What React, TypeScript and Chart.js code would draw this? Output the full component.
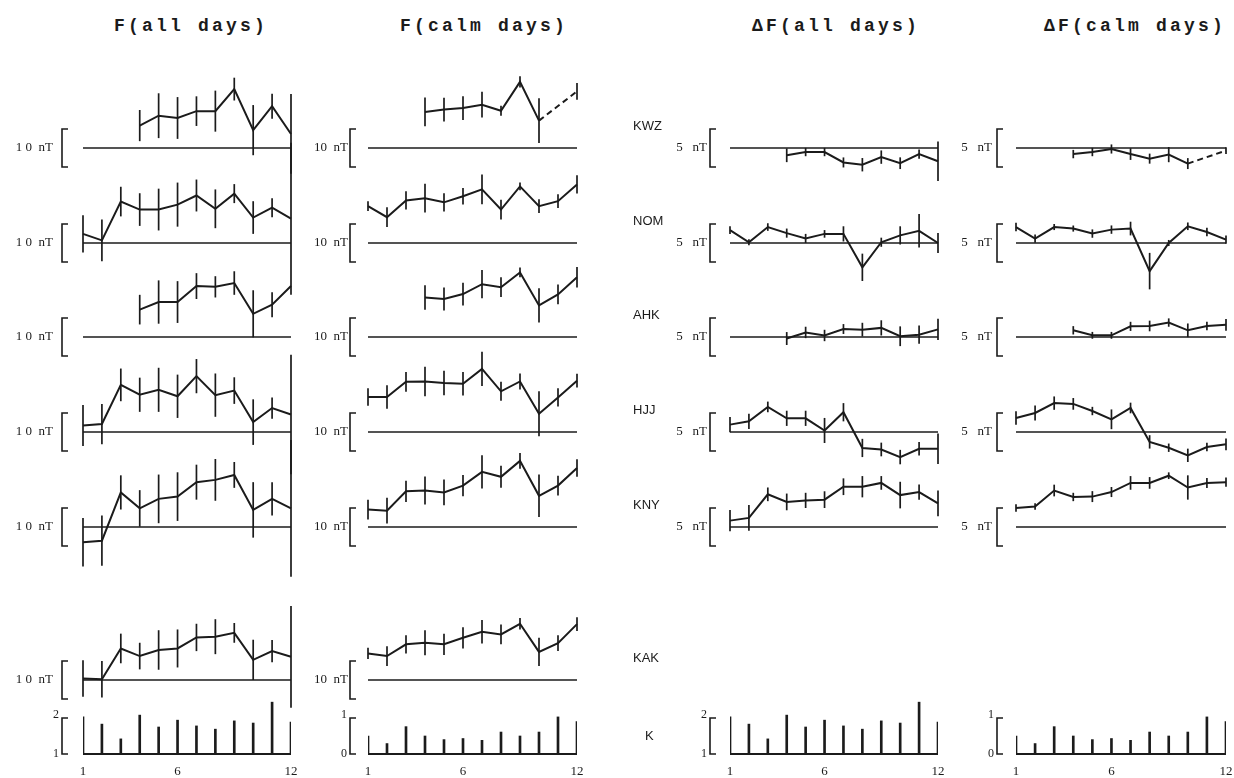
import React, { useEffect, useRef } from "react";
import { Chart, registerables } from "chart.js";

Chart.register(...registerables);

// ---------------- data ----------------
const MONTHS = [1, 2, 3, 4, 5, 6, 7, 8, 9, 10, 11, 12];
const MONTH_TICKS = [1, 6, 12];
const STATIONS = ["KWZ", "NOM", "AHK", "HJJ", "KNY", "KAK"];
const TITLES = ["F(all days)", "F(calm days)", "\u0394F(all days)", "\u0394F(calm days)"];

// F, all days (nT) and error half-lengths
const FA_KWZ = [null, null, null, 5.9, 8.5, 7.9, 9.7, 9.7, 15.5, 4.7, 11.0, 3.7];
const FA_KWZ_E = [0, 0, 0, 4.1, 5.9, 5.5, 3.9, 5.4, 3.0, 6.6, 3.3, 10.5];
const FA_NOM = [2.4, 0.7, 10.9, 8.8, 8.8, 10.1, 12.5, 9.0, 13.0, 6.7, 9.3, 6.4];
const FA_NOM_E = [4.9, 5.5, 3.9, 4.3, 5.5, 5.8, 4.2, 5.1, 2.5, 4.3, 2.5, 20];
const FA_AHK = [null, null, null, 7.2, 9.2, 9.2, 13.4, 13.2, 14.2, 6.1, 8.5, 13.4];
const FA_AHK_E = [0, 0, 0, 3.9, 5.7, 5.5, 3.4, 2.8, 3.1, 6.2, 3.3, 0];
const FA_HJJ = [1.7, 2.1, 12.4, 9.8, 11.1, 9.4, 14.7, 9.7, 10.9, 2.6, 6.3, 4.6];
const FA_HJJ_E = [5.4, 5.3, 4.3, 4.5, 5.8, 5.7, 4.5, 5.7, 3.5, 6.0, 2.8, 15.7];
const FA_KNY = [-4.0, -3.6, 9.1, 4.9, 7.4, 8.0, 11.8, 12.4, 13.7, 4.5, 7.4, 4.9];
const FA_KNY_E = [6.4, 6.6, 4.5, 4.8, 6.4, 6.4, 4.6, 5.5, 3.4, 7.3, 4.4, 18];
const FA_KAK = [0.4, 0.2, 8.3, 6.3, 7.9, 8.3, 11.2, 11.4, 12.4, 5.3, 7.6, 6.1];
const FA_KAK_E = [4.8, 4.8, 3.9, 3.5, 5.2, 5.0, 3.6, 4.6, 2.6, 5.3, 2.9, 13.4];

// F, calm days (nT)
const FC_KWZ = [null, null, null, 9.5, 10.1, 10.5, 11.4, 9.8, 17.4, 7.2, null, 14.9];
const FC_KWZ_E = [0, 0, 0, 3.8, 3.1, 3.1, 3.4, 1.3, 1.5, 5.9, 0, 2.2];
const FC_NOM = [9.7, 6.8, 11.2, 11.8, 10.7, 12.3, 14.1, 8.8, 14.9, 9.7, 11.0, 15.4];
const FC_NOM_E = [1.3, 2.6, 2.4, 3.8, 2.4, 2.2, 3.9, 2.6, 1.0, 1.8, 1.8, 2.4];
const FC_AHK = [null, null, null, 10.4, 10.0, 11.3, 13.9, 13.1, 17.0, 8.3, 11.2, 15.7];
const FC_AHK_E = [0, 0, 0, 3.2, 3.0, 3.0, 3.7, 2.6, 1.3, 4.5, 2.6, 2.7];
const FC_HJJ = [9.2, 9.2, 13.2, 13.3, 12.9, 12.7, 16.6, 10.7, 13.3, 4.8, 9.1, 13.5];
const FC_HJJ_E = [2.3, 3.1, 2.6, 3.9, 3.2, 3.1, 4.5, 2.5, 2.1, 5.9, 2.4, 1.8];
const FC_KNY = [4.6, 4.3, 9.4, 9.6, 9.1, 10.9, 14.5, 13.2, 17.4, 8.2, 10.9, 15.5];
const FC_KNY_E = [2.6, 3.4, 2.8, 3.7, 3.4, 2.8, 4.4, 2.9, 2.1, 5.6, 2.6, 2.3];
const FC_KAK = [7.0, 6.3, 9.4, 9.8, 9.4, 11.1, 12.7, 12.0, 14.8, 7.4, 9.7, 14.7];
const FC_KAK_E = [1.5, 2.6, 2.4, 3.3, 2.8, 2.8, 3.1, 2.6, 1.5, 3.7, 2.1, 1.8];

// Delta F, all days (nT)
const DA_KWZ = [null, null, null, -0.96, -0.53, -0.53, -1.9, -2.2, -1.2, -2.0, -0.8, -1.75];
const DA_KWZ_E = [0, 0, 0, 0.9, 0.55, 0.55, 0.66, 0.88, 0.88, 0.77, 0.6, 2.6];
const DA_NOM = [1.7, 0.1, 2.1, 1.3, 0.6, 1.2, 1.2, -3.2, 0.1, 1.0, 1.6, 0.0];
const DA_NOM_E = [0.5, 0.4, 0.5, 0.6, 0.6, 0.5, 1.0, 1.8, 0.6, 1.2, 2.2, 1.3];
const DA_AHK = [null, null, null, -0.2, 0.6, 0.2, 1.05, 0.97, 1.2, 0.1, 0.3, 1.0];
const DA_AHK_E = [0, 0, 0, 0.85, 0.75, 0.75, 0.65, 0.9, 1.0, 1.3, 1.2, 1.4];
const DA_HJJ = [0.97, 1.4, 3.3, 1.8, 1.8, 0.2, 2.6, -2.1, -2.3, -3.3, -2.2, -2.2];
const DA_HJJ_E = [1.0, 1.0, 0.7, 1.0, 1.0, 1.65, 1.2, 1.2, 0.9, 0.95, 0.9, 2.0];
const DA_KNY = [0.84, 1.2, 4.3, 3.3, 3.5, 3.6, 5.3, 5.3, 5.8, 4.2, 4.6, 3.1];
const DA_KNY_E = [1.4, 1.7, 0.9, 1.1, 1.0, 1.1, 1.1, 1.4, 0.9, 1.75, 1.0, 1.7];

// Delta F, calm days (nT)
const DC_KWZ = [null, null, null, -0.8, -0.53, -0.13, -0.8, -1.4, -0.87, -2.05, null, -0.34];
const DC_KWZ_E = [0, 0, 0, 0.55, 0.55, 0.6, 0.77, 0.66, 1.0, 0.72, 0, 0.45];
const DC_NOM = [2.1, 0.58, 2.1, 1.9, 1.24, 1.76, 1.9, -3.7, 0.0, 2.2, 1.45, 0.45];
const DC_NOM_E = [0.55, 0.55, 0.4, 0.4, 0.55, 0.55, 0.9, 2.4, 0.4, 0.5, 0.55, 0.55];
const DC_AHK = [null, null, null, 0.88, 0.22, 0.22, 1.4, 1.45, 1.9, 0.88, 1.45, 1.6];
const DC_AHK_E = [0, 0, 0, 0.55, 0.45, 0.45, 0.6, 0.7, 0.55, 0.9, 0.55, 0.77];
const DC_HJJ = [1.84, 2.5, 3.8, 3.7, 2.76, 1.67, 3.16, -1.3, -2.07, -3.07, -1.97, -1.62];
const DC_HJJ_E = [0.88, 0.99, 0.88, 0.77, 0.55, 1.3, 0.7, 0.88, 0.55, 0.88, 0.55, 0.77];
const DC_KNY = [2.5, 2.7, 4.8, 3.95, 4.0, 4.6, 5.8, 5.8, 6.75, 5.2, 5.8, 5.9];
const DC_KNY_E = [0.5, 0.44, 0.77, 0.55, 0.72, 0.66, 0.9, 0.77, 0.44, 1.6, 0.66, 0.6];

// K index (monthly mean)
const K_ALL = [2.03, 1.83, 1.42, 2.08, 1.75, 1.94, 1.78, 1.69, 1.92, 1.86, 2.44, 1.89];
const K_CALM = [0.5, 0.29, 0.76, 0.5, 0.4, 0.43, 0.38, 0.61, 0.5, 0.61, 1.03, 0.9];

// ---------------- layout ----------------
const H = 778;
const INK = "#1b1b1b";
const BASE_PX = [148, 243, 337, 432, 527, 680]; // baseline pixel row of each station
const K_BASE_PX = 754;
const K_PX_PER_UNIT = 36;

type Panel = { station: string; values: (number | null)[] | null; errors: number[] | null };
type Col = {
  key: string; title: string; titleX: number;
  left: number; width: number; x1: number; x12: number;
  ppn: number; half: number; unit: string; bracketGap: number; unitGap: number;
  showNames: boolean; nameX: number;
  panels: Panel[]; k: number[]; kBase: number;
};

const COLUMNS: Col[] = [
  {
    key: "fa", title: TITLES[0], titleX: 191, left: 0, width: 300, x1: 83, x12: 291,
    ppn: 3.8, half: 5, unit: "1 0  nT", bracketGap: 21, unitGap: 9, showNames: false, nameX: 0,
    panels: [
      { station: "KWZ", values: FA_KWZ, errors: FA_KWZ_E },
      { station: "NOM", values: FA_NOM, errors: FA_NOM_E },
      { station: "AHK", values: FA_AHK, errors: FA_AHK_E },
      { station: "HJJ", values: FA_HJJ, errors: FA_HJJ_E },
      { station: "KNY", values: FA_KNY, errors: FA_KNY_E },
      { station: "KAK", values: FA_KAK, errors: FA_KAK_E },
    ],
    k: K_ALL, kBase: 1,
  },
  {
    key: "fc", title: TITLES[1], titleX: 484, left: 300, width: 300, x1: 368, x12: 577,
    ppn: 3.8, half: 5, unit: "10  nT", bracketGap: 18, unitGap: 2, showNames: false, nameX: 0,
    panels: [
      { station: "KWZ", values: FC_KWZ, errors: FC_KWZ_E },
      { station: "NOM", values: FC_NOM, errors: FC_NOM_E },
      { station: "AHK", values: FC_AHK, errors: FC_AHK_E },
      { station: "HJJ", values: FC_HJJ, errors: FC_HJJ_E },
      { station: "KNY", values: FC_KNY, errors: FC_KNY_E },
      { station: "KAK", values: FC_KAK, errors: FC_KAK_E },
    ],
    k: K_CALM, kBase: 0,
  },
  {
    key: "da", title: TITLES[2], titleX: 836, left: 600, width: 350, x1: 730, x12: 938,
    ppn: 7.6, half: 2.5, unit: "5   nT", bracketGap: 20, unitGap: 3, showNames: true, nameX: 633,
    panels: [
      { station: "KWZ", values: DA_KWZ, errors: DA_KWZ_E },
      { station: "NOM", values: DA_NOM, errors: DA_NOM_E },
      { station: "AHK", values: DA_AHK, errors: DA_AHK_E },
      { station: "HJJ", values: DA_HJJ, errors: DA_HJJ_E },
      { station: "KNY", values: DA_KNY, errors: DA_KNY_E },
      { station: "KAK", values: null, errors: null },
    ],
    k: K_ALL, kBase: 1,
  },
  {
    key: "dc", title: TITLES[3], titleX: 1135, left: 950, width: 284, x1: 1016, x12: 1226,
    ppn: 7.6, half: 2.5, unit: "5   nT", bracketGap: 19, unitGap: 5, showNames: false, nameX: 0,
    panels: [
      { station: "KWZ", values: DC_KWZ, errors: DC_KWZ_E },
      { station: "NOM", values: DC_NOM, errors: DC_NOM_E },
      { station: "AHK", values: DC_AHK, errors: DC_AHK_E },
      { station: "HJJ", values: DC_HJJ, errors: DC_HJJ_E },
      { station: "KNY", values: DC_KNY, errors: DC_KNY_E },
    ],
    k: K_CALM, kBase: 0,
  },
];

const UNIT_FONT = '13px "Liberation Serif"';
const NAME_FONT = '13px "Liberation Sans"';
const TICK_FONT = '13px "Liberation Serif"';

function drawBracket(ctx: CanvasRenderingContext2D, x: number, yt: number, yb: number) {
  ctx.beginPath();
  ctx.moveTo(x + 6, yt);
  ctx.lineTo(x, yt);
  ctx.lineTo(x, yb);
  ctx.lineTo(x + 6, yb);
  ctx.stroke();
}

function makeFigurePlugin(col: Col) {
  return {
    id: "figure_" + col.key,
    afterDatasetsDraw(chart: any) {
      const ctx: CanvasRenderingContext2D = chart.ctx;
      const xs = chart.scales.x;
      ctx.save();
      ctx.strokeStyle = INK;
      ctx.fillStyle = INK;
      // error bars
      ctx.lineWidth = 1.7;
      chart.data.datasets.forEach((ds: any) => {
        if (!ds.errors) return;
        const ys = chart.scales[ds.yAxisID];
        ds.data.forEach((p: any, i: number) => {
          const e = ds.errors[i];
          if (p.y === null || !e) return;
          const px = xs.getPixelForValue(p.x);
          ctx.beginPath();
          ctx.moveTo(px, ys.getPixelForValue(p.y + e));
          ctx.lineTo(px, ys.getPixelForValue(p.y - e));
          ctx.stroke();
        });
      });
      // brackets, units, station names
      const bx = xs.getPixelForValue(1) - col.bracketGap;
      ctx.lineWidth = 1.6;
      ctx.textBaseline = "middle";
      col.panels.forEach((pn) => {
        const ys = chart.scales["y" + pn.station];
        const y0 = ys.getPixelForValue(0);
        if (col.showNames) {
          ctx.font = NAME_FONT;
          ctx.textAlign = "left";
          ctx.fillText(pn.station, col.nameX - col.left, y0 - 22);
        }
        if (!pn.values) return;
        drawBracket(ctx, bx, ys.getPixelForValue(col.half), ys.getPixelForValue(-col.half));
        ctx.font = UNIT_FONT;
        ctx.textAlign = "right";
        ctx.fillText(col.unit, bx - col.unitGap, y0);
      });
      // K panel
      const ky = chart.scales.yK;
      const kb = ky.getPixelForValue(col.kBase);
      const kt = ky.getPixelForValue(col.kBase + 1);
      drawBracket(ctx, bx, kt, kb);
      ctx.font = '12px "Liberation Serif"';
      ctx.textAlign = "right";
      ctx.fillText(String(col.kBase + 1), bx - 3, kt - 3);
      ctx.fillText(String(col.kBase), bx - 3, kb);
      if (col.showNames) {
        ctx.font = NAME_FONT;
        ctx.textAlign = "left";
        ctx.fillText("K", col.nameX - col.left + 12, (kt + kb) / 2);
      }
      ctx.font = TICK_FONT;
      ctx.textAlign = "center";
      MONTH_TICKS.forEach((m) => {
        ctx.fillText(String(m), xs.getPixelForValue(m), kb + 18);
      });
      ctx.restore();
    },
  };
}

function buildChart(canvas: HTMLCanvasElement, col: Col) {
  const scales: any = {
    x: { type: "linear", min: 1, max: 12, display: false, bounds: "data", offset: false, grid: { offset: false } },
    yK: {
      type: "linear", display: false, bounds: "data",
      min: col.kBase - (H - K_BASE_PX) / K_PX_PER_UNIT,
      max: col.kBase + K_BASE_PX / K_PX_PER_UNIT,
    },
  };
  const datasets: any[] = [];
  col.panels.forEach((pn) => {
    const base = BASE_PX[STATIONS.indexOf(pn.station)];
    scales["y" + pn.station] = {
      type: "linear", display: false, bounds: "data",
      min: -(H - base) / col.ppn, max: base / col.ppn,
    };
    if (!pn.values) return;
    datasets.push({
      type: "line",
      data: [{ x: 1, y: 0 }, { x: 12, y: 0 }],
      yAxisID: "y" + pn.station,
      borderColor: INK, borderWidth: 1.4, pointRadius: 0, clip: false,
    });
    datasets.push({
      type: "line",
      label: pn.station,
      data: MONTHS.map((m, i) => ({ x: m, y: pn.values![i] })),
      errors: pn.errors,
      yAxisID: "y" + pn.station,
      borderColor: INK, borderWidth: 2, pointRadius: 0, tension: 0,
      spanGaps: true, clip: false,
      segment: {
        // a segment that bridges a missing month is drawn dashed
        borderDash: (ctx: any) => (ctx.p0.skip || ctx.p1.skip ? [6, 4] : undefined),
      },
    });
  });
  // K index
  datasets.push({
    type: "line",
    data: [{ x: 1, y: col.kBase }, { x: 12, y: col.kBase }],
    yAxisID: "yK",
    borderColor: INK, borderWidth: 1.8, pointRadius: 0, clip: false,
  });
  datasets.push({
    type: "bar",
    label: "K",
    data: MONTHS.map((m, i) => ({ x: m, y: [col.kBase, col.k[i]] })),
    xAxisID: "x",
    yAxisID: "yK",
    backgroundColor: INK, borderWidth: 0, barThickness: 2, grouped: false,
  });

  return new Chart(canvas, {
    type: "line",
    data: { datasets },
    options: {
      responsive: false,
      animation: false,
      events: [],
      layout: { padding: { left: col.x1 - col.left, right: col.left + col.width - col.x12, top: 0, bottom: 0 } },
      plugins: { legend: { display: false }, tooltip: { enabled: false }, title: { display: false } },
      scales,
    } as any,
    plugins: [makeFigurePlugin(col) as any],
  });
}

function Column({ col }: { col: Col }) {
  const ref = useRef<HTMLCanvasElement | null>(null);
  useEffect(() => {
    if (!ref.current) return;
    const chart = buildChart(ref.current, col);
    return () => chart.destroy();
  }, [col]);
  return (
    <canvas
      ref={ref}
      width={col.width}
      height={H}
      style={{ position: "absolute", left: col.left, top: 0, width: col.width, height: H }}
    />
  );
}

export default function App() {
  return (
    <div style={{ position: "absolute", left: 0, top: 0, width: 1234, height: H, background: "#fff", overflow: "hidden" }}>
      {COLUMNS.map((col) => (
        <div
          key={"t" + col.key}
          style={{
            position: "absolute",
            left: col.titleX - 150,
            width: 300,
            top: 15,
            textAlign: "center",
            fontFamily: '"Liberation Mono", monospace',
            fontWeight: "bold",
            fontSize: 18,
            letterSpacing: 3.2,
            lineHeight: "22px",
            color: INK,
          }}
        >
          {col.title}
        </div>
      ))}
      {COLUMNS.map((col) => (
        <Column key={col.key} col={col} />
      ))}
    </div>
  );
}
